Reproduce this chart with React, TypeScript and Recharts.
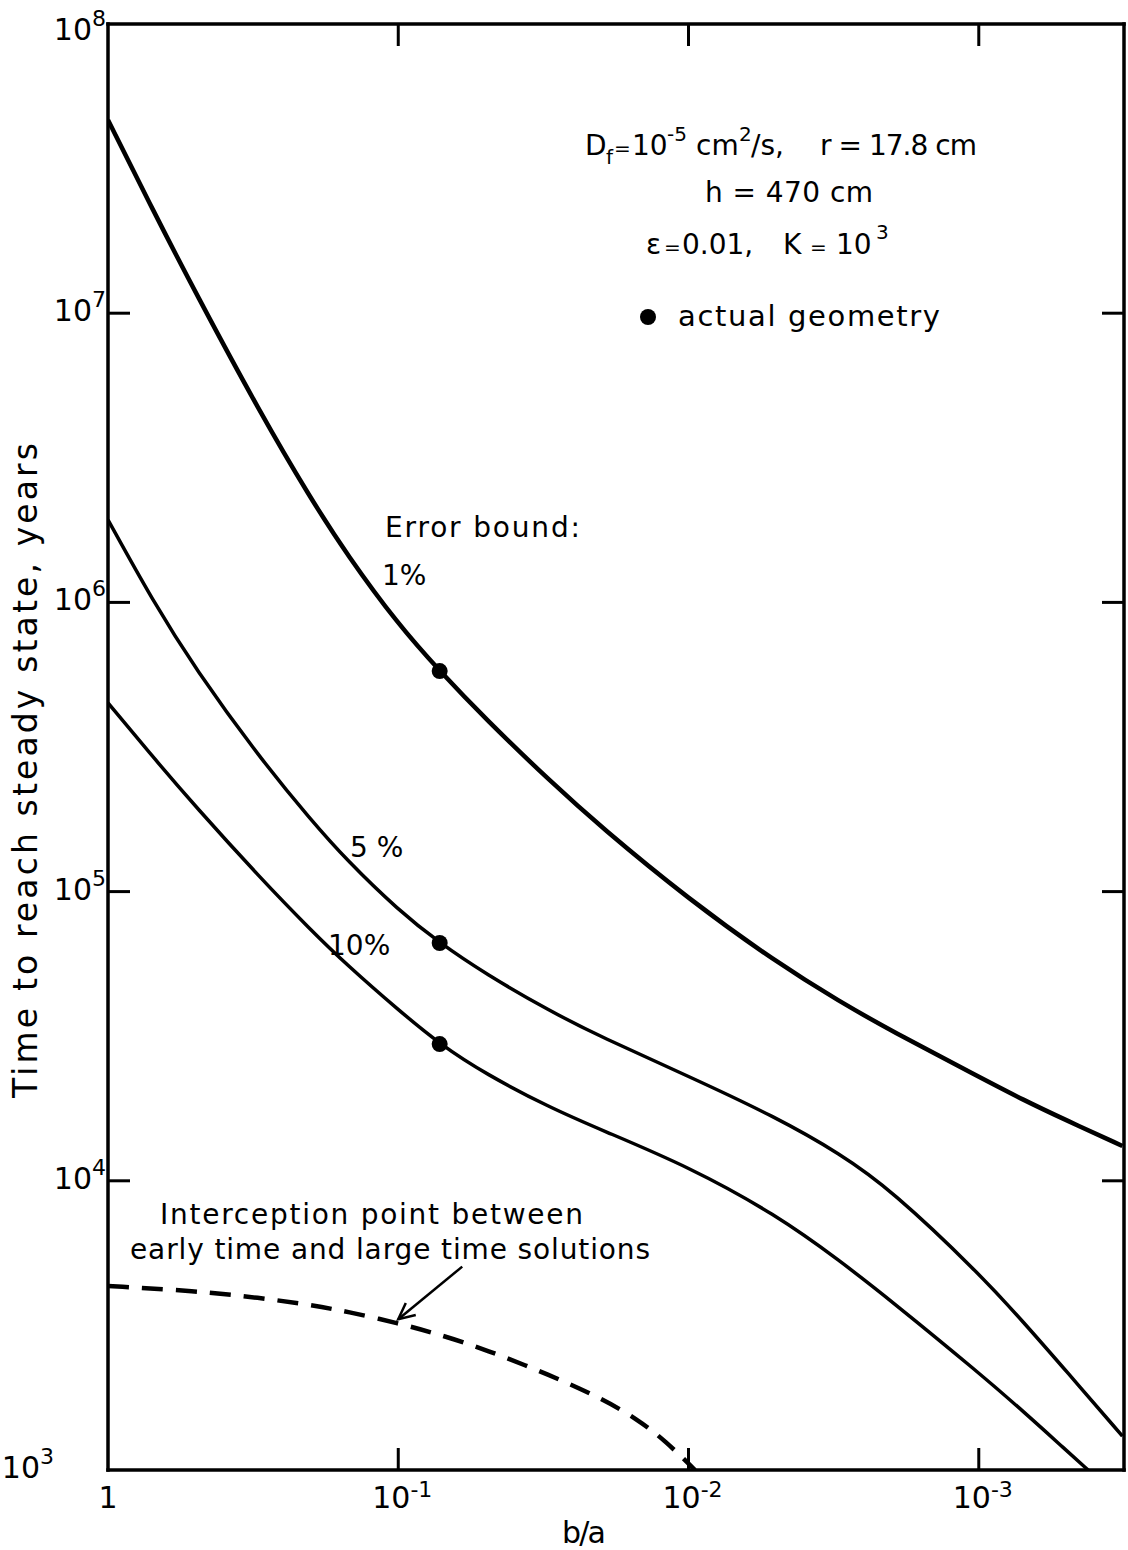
import React from 'react';
import { ComposedChart, Line, Scatter, XAxis, YAxis, ReferenceLine } from 'recharts';

// b/a values where the curves were read
const ratio = [1, 0.7, 0.5, 0.3, 0.2, 0.15, 0.1, 0.072, 0.05, 0.03, 0.02, 0.01, 0.005, 0.003, 0.002, 0.001, 0.0007, 0.0005, 0.00032];
// time to steady state (years) for each error bound
const bound1 = [4.66e7, 2.27e7, 1.18e7, 4.55e6, 2.28e6, 1.46e6, 8.38e5, 5.79e5, 3.95e5, 2.41e5, 1.67e5, 9.42e4, 5.71e4, 4.15e4, 3.3e4, 2.29e4, 1.9e4, 1.62e4, 1.32e4];
const bound5 = [1.93e6, 1.01e6, 5.89e5, 2.9e5, 1.77e5, 1.28e5, 8.63e4, 6.64e4, 5.19e4, 3.86e4, 3.14e4, 2.3e4, 1.66e4, 1.24e4, 9.29e3, 4.8e3, 3.24e3, 2.2e3, 1.31e3];
const ratio10 = [1, 0.7, 0.5, 0.3, 0.2, 0.15, 0.1, 0.072, 0.05, 0.03, 0.02, 0.01, 0.005, 0.003, 0.002, 0.001, 0.0007, 0.0005, 0.00042];
const bound10 = [4.49e5, 2.92e5, 1.97e5, 1.12e5, 7.36e4, 5.57e4, 3.9e4, 2.97e4, 2.34e4, 1.79e4, 1.5e4, 1.12e4, 7.64e3, 5.28e3, 3.84e3, 2.17e3, 1.59e3, 1.17e3, 1.0e3];
// interception between early time and large time solutions (dashed)
const ratioCross = [1, 0.5, 0.3, 0.2, 0.15, 0.1, 0.072, 0.05, 0.03, 0.02, 0.015, 0.012, 0.0095];
const crossTime = [4.33e3, 4.16e3, 3.94e3, 3.72e3, 3.53e3, 3.22e3, 2.94e3, 2.61e3, 2.13e3, 1.77e3, 1.5e3, 1.26e3, 1.0e3];
// actual geometry points
const geometryRatio = [0.072, 0.072, 0.072];
const geometryTime = [5.79e5, 6.64e4, 2.97e4];

const xTicks = [1, 0.1, 0.01, 0.001];
const yTicks = [1e3, 1e4, 1e5, 1e6, 1e7, 1e8];
const xDomain = [0.000316, 1];
const yDomain = [1e3, 1e8];

const arrowFrom = { x: 0.0602, y: 5.05e3 };
const arrowTo = { x: 0.1, y: 3.32e3 };

const pts = (xs: number[], ys: number[]) => xs.map((x, i) => ({ x, y: ys[i] }));

const FONT = '"DejaVu Sans", sans-serif';
const frame = { stroke: '#000', strokeWidth: 3.5, strokeLinecap: 'square' as const };

const exponent = (v: number) => Math.round(Math.log10(v));

const LeftTick = (p: any) => {
  const { x, y, payload } = p;
  const e = exponent(payload.value);
  const inner = e > 3 && e < 8;
  const endX = e === 3 ? 54 : x - 2;
  const base = e === 8 ? y + 16 : y + 8;
  return (
    <g>
      {inner && <line x1={x} y1={y} x2={x + 22} y2={y} stroke="#000" strokeWidth={3} />}
      <text x={endX} y={base} textAnchor="end" fontFamily={FONT} fontSize={30} fill="#000">
        10<tspan dy={-14} fontSize={22}>{e}</tspan>
      </text>
    </g>
  );
};

const BottomTick = (p: any) => {
  const { x, y, payload } = p;
  const v = payload.value;
  if (v === 1) {
    return (
      <text x={x} y={y + 38} textAnchor="middle" fontFamily={FONT} fontSize={30} fill="#000">1</text>
    );
  }
  const e = exponent(v);
  return (
    <g>
      <line x1={x} y1={y} x2={x} y2={y - 22} stroke="#000" strokeWidth={3} />
      <text x={x + 4} y={y + 38} textAnchor="middle" fontFamily={FONT} fontSize={30} fill="#000">
        10<tspan dy={-11} fontSize={22}>-{-e}</tspan>
      </text>
    </g>
  );
};

const TopTick = (p: any) => {
  const { x, y, payload } = p;
  if (payload.value === 1) return <g />;
  return <line x1={x} y1={y} x2={x} y2={y + 22} stroke="#000" strokeWidth={3} />;
};

const RightTick = (p: any) => {
  const { x, y, payload } = p;
  const e = exponent(payload.value);
  if (e <= 3 || e >= 8) return <g />;
  return <line x1={x} y1={y} x2={x - 22} y2={y} stroke="#000" strokeWidth={3} />;
};

const Arrow = (p: any) => {
  const { x1, y1, x2, y2 } = p;
  const a = Math.atan2(y2 - y1, x2 - x1);
  const len = 18;
  const w = 0.45;
  const ax = x2 - len * Math.cos(a - w);
  const ay = y2 - len * Math.sin(a - w);
  const bx = x2 - len * Math.cos(a + w);
  const by = y2 - len * Math.sin(a + w);
  return (
    <g>
      <line x1={x1} y1={y1} x2={x2} y2={y2} stroke="#000" strokeWidth={2.5} />
      <polyline points={`${ax},${ay} ${x2},${y2} ${bx},${by}`} fill="none" stroke="#000" strokeWidth={2.5} />
    </g>
  );
};

const GeometryDot = (p: any) => <circle cx={p.cx} cy={p.cy} r={8} fill="#000" />;

const txt = { fontFamily: FONT, fill: '#000' };

export default function App() {
  return (
    <div style={{ position: 'absolute', left: 0, top: 0, width: 1128, height: 1550, background: '#fff' }}>
      <ComposedChart width={1128} height={1550} margin={{ top: 23, right: 3, bottom: 79, left: 107 }}>
        <XAxis dataKey="x" type="number" scale="log" domain={xDomain} reversed allowDataOverflow
          ticks={xTicks} interval={0} height={1} tickSize={0} tickMargin={0} tickLine={false}
          axisLine={frame} tick={(p: any) => <BottomTick {...p} />} />
        <XAxis xAxisId="top" orientation="top" dataKey="x" type="number" scale="log" domain={xDomain} reversed allowDataOverflow
          ticks={xTicks} interval={0} height={1} tickSize={0} tickMargin={0} tickLine={false}
          axisLine={frame} tick={(p: any) => <TopTick {...p} />} />
        <YAxis dataKey="y" type="number" scale="log" domain={yDomain} allowDataOverflow
          ticks={yTicks} interval={0} width={1} tickSize={0} tickMargin={0} tickLine={false}
          axisLine={frame} tick={(p: any) => <LeftTick {...p} />} />
        <YAxis yAxisId="right" orientation="right" dataKey="y" type="number" scale="log" domain={yDomain} allowDataOverflow
          ticks={yTicks} interval={0} width={1} tickSize={0} tickMargin={0} tickLine={false}
          axisLine={frame} tick={(p: any) => <RightTick {...p} />} />

        <Line data={pts(ratio, bound1)} dataKey="y" type="basis" stroke="#000" strokeWidth={4.5} dot={false} isAnimationActive={false} />
        <Line data={pts(ratio, bound5)} dataKey="y" type="basis" stroke="#000" strokeWidth={3.5} dot={false} isAnimationActive={false} />
        <Line data={pts(ratio10, bound10)} dataKey="y" type="basis" stroke="#000" strokeWidth={3.5} dot={false} isAnimationActive={false} />
        <Line data={pts(ratioCross, crossTime)} dataKey="y" type="basis" stroke="#000" strokeWidth={4.5} strokeDasharray="21 13" dot={false} isAnimationActive={false} />
        <Scatter data={pts(geometryRatio, geometryTime)} dataKey="y" shape={GeometryDot} isAnimationActive={false} />
        <ReferenceLine segment={[arrowFrom, arrowTo]} ifOverflow="visible" shape={Arrow} />
      </ComposedChart>

      <svg width={1128} height={1550} style={{ position: 'absolute', left: 0, top: 0, pointerEvents: 'none' }}>
        {/* parameter block */}
        <text {...txt} fontSize={28} y={155}>
          <tspan x={585}>D</tspan>
          <tspan x={606} dy={9} fontSize={20}>f</tspan>
          <tspan x={614} dy={-9} fontSize={20}>=</tspan>
          <tspan x={632} fontSize={28}>10</tspan>
          <tspan x={667} dy={-14} fontSize={20}>-5</tspan>
          <tspan x={696} dy={14} fontSize={28}>cm</tspan>
          <tspan x={739} dy={-14} fontSize={20}>2</tspan>
          <tspan x={751} dy={14} fontSize={28}>/s,</tspan>
        </text>
        <text {...txt} fontSize={28} x={820} y={155} textLength={157} lengthAdjust="spacing">r = 17.8 cm</text>
        <text {...txt} fontSize={28} x={705} y={202} textLength={168} lengthAdjust="spacing">h = 470 cm</text>
        <text {...txt} fontSize={28} y={254}>
          <tspan x={646}>ε</tspan>
          <tspan x={664} fontSize={20}>=</tspan>
          <tspan x={682} fontSize={28}>0.01,</tspan>
          <tspan x={783}>K</tspan>
          <tspan x={810} fontSize={20}>=</tspan>
          <tspan x={836} fontSize={28}>10</tspan>
          <tspan x={876} dy={-15} fontSize={20}>3</tspan>
        </text>
        <circle cx={648} cy={317} r={8} fill="#000" />
        <text {...txt} fontSize={29} x={678} y={326} textLength={262} lengthAdjust="spacing">actual geometry</text>

        {/* curve labels */}
        <text {...txt} fontSize={28} x={385} y={537} textLength={195} lengthAdjust="spacing">Error bound:</text>
        <text {...txt} fontSize={28} x={382} y={585}>1%</text>
        <text {...txt} fontSize={28} x={350} y={857}>5 %</text>
        <text {...txt} fontSize={28} x={328} y={955}>10%</text>
        <text {...txt} fontSize={28} x={160} y={1224} textLength={423} lengthAdjust="spacing">Interception point between</text>
        <text {...txt} fontSize={28} x={130} y={1259} textLength={520} lengthAdjust="spacing">early time and large time solutions</text>

        {/* axis titles */}
        <text {...txt} fontSize={30} x={562} y={1543} textLength={44} lengthAdjust="spacing">b/a</text>
        <text {...txt} fontSize={33} x={0} y={0} textLength={655} lengthAdjust="spacing"
          transform="translate(37,1098) rotate(-90)">Time to reach steady state, years</text>
      </svg>
    </div>
  );
}
